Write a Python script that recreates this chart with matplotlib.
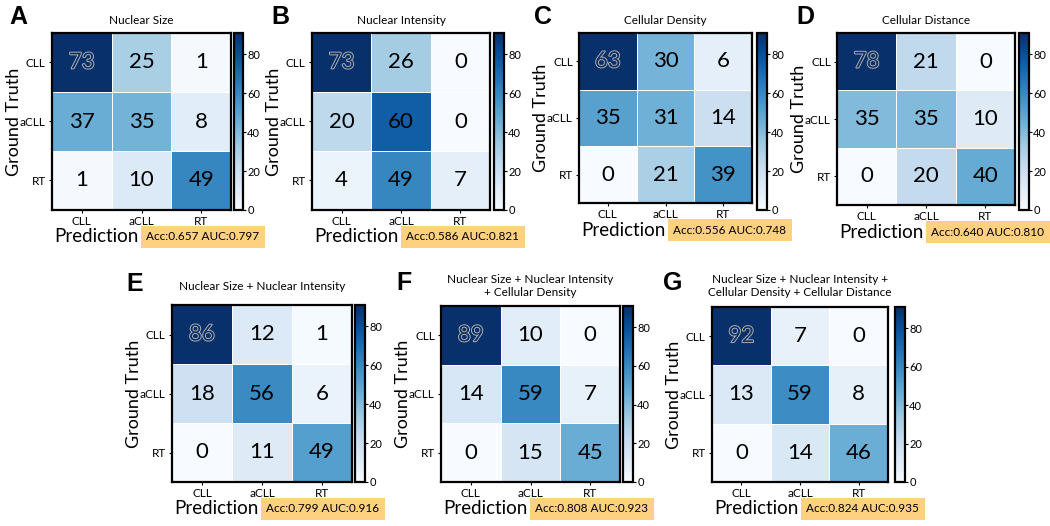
import numpy as np
import matplotlib
matplotlib.use("Agg")
import matplotlib.pyplot as plt
from matplotlib import patheffects as pe
from matplotlib.colors import Normalize
from matplotlib.cm import ScalarMappable

plt.rcParams['font.family'] = ['Lato', 'DejaVu Sans']

classes = ["CLL", "aCLL", "RT"]
panel_letters = ["A", "B", "C", "D", "E", "F", "G"]
titles = ["Nuclear Size", "Nuclear Intensity", "Cellular Density", "Cellular Distance",
          "Nuclear Size + Nuclear Intensity",
          "Nuclear Size + Nuclear Intensity\n+ Cellular Density",
          "Nuclear Size + Nuclear Intensity +\nCellular Density + Cellular Distance"]
cm_A = [[73, 25, 1], [37, 35, 8], [1, 10, 49]]
cm_B = [[73, 26, 0], [20, 60, 0], [4, 49, 7]]
cm_C = [[63, 30, 6], [35, 31, 14], [0, 21, 39]]
cm_D = [[78, 21, 0], [35, 35, 10], [0, 20, 40]]
cm_E = [[86, 12, 1], [18, 56, 6], [0, 11, 49]]
cm_F = [[89, 10, 0], [14, 59, 7], [0, 15, 45]]
cm_G = [[92, 7, 0], [13, 59, 8], [0, 14, 46]]
matrices = [cm_A, cm_B, cm_C, cm_D, cm_E, cm_F, cm_G]
acc = ["0.657", "0.586", "0.556", "0.640", "0.799", "0.808", "0.824"]
auc = ["0.797", "0.821", "0.748", "0.810", "0.916", "0.923", "0.935"]
cbar_max = 91
cbar_ticks = [0, 20, 40, 60, 80]

W, H = 1050, 526
fig = plt.figure(figsize=(W / 100, H / 100), dpi=100)

# layout in pixels: heatmap (x0, x1, y0, y1), colorbar (x0, x1, y0, y1), title y, letter (x, y)
layout = [
    ((52, 231, 33, 210), (234, 243, 33, 210), 20, (9, 17)),
    ((312, 490, 33, 210), (494, 504, 33, 210), 20, (271, 17)),
    ((579, 752, 33, 203), (757, 767, 33, 210), 20, (534, 17)),
    ((837, 1015, 33, 205), (1019, 1029, 33, 210), 20, (796, 17)),
    ((172, 352, 305, 482), (355, 365, 305, 482), 286, (126, 284)),
    ((441, 620, 306, 482), (623, 633, 306, 482), 286, (396, 283)),
    ((712, 888, 307, 482), (895, 905, 307, 482), 286, (663, 283)),
]


def add_px_axes(x0, x1, y0, y1):
    return fig.add_axes([x0 / W, 1 - y1 / H, (x1 - x0) / W, (y1 - y0) / H])


cbar_norm = Normalize(vmin=0, vmax=cbar_max)

for i, mat in enumerate(matrices):
    m = np.array(mat)
    (hx0, hx1, hy0, hy1), (cx0, cx1, cy0, cy1), ty, (lx, ly) = layout[i]
    ax = add_px_axes(hx0, hx1, hy0, hy1)
    ax.pcolormesh(m, cmap="Blues", vmin=0, vmax=m.max(), edgecolors="white", linewidth=0.7)
    ax.set_xlim(0, 3)
    ax.set_ylim(3, 0)
    ax.set_xticks(np.arange(3) + 0.5)
    ax.set_yticks(np.arange(3) + 0.5)
    ax.set_xticklabels(classes, fontsize=8.5)
    ax.set_yticklabels(classes, fontsize=8.5)
    ax.tick_params(length=2.5, width=0.8, pad=2)
    for s in ax.spines.values():
        s.set_linewidth(1.6)
    vmax = m.max()
    for r in range(3):
        for c in range(3):
            v = m[r, c]
            if v == vmax:
                ax.text(c + 0.5, r + 0.5, str(v), ha="center", va="center", fontsize=16,
                        color="#0e2f62",
                        path_effects=[pe.withStroke(linewidth=1.3, foreground="#b8b8b8")])
            else:
                ax.text(c + 0.5, r + 0.5, str(v), ha="center", va="center", fontsize=16,
                        color="black")

    cax = add_px_axes(cx0, cx1, cy0, cy1)
    cb = fig.colorbar(ScalarMappable(norm=cbar_norm, cmap="Blues"), cax=cax, ticks=cbar_ticks)
    cb.outline.set_linewidth(1.6)
    cax.tick_params(labelsize=8, length=2, width=0.8, pad=1)

    cxm = (hx0 + hx1) / 2
    fig.text(cxm / W, 1 - ty / H, titles[i], ha="center", va="center", fontsize=8.5,
             linespacing=1.2)
    fig.text(lx / W, 1 - ly / H, panel_letters[i], ha="left", va="center", fontsize=18,
             fontweight="bold", family=["Liberation Sans", "DejaVu Sans"])
    fig.text((hx0 - 38) / W, 1 - ((hy0 + hy1) / 2) / H, "Ground Truth", rotation=90,
             ha="center", va="center", fontsize=13)
    py = 1 - (hy1 + 27) / H
    t = fig.text((hx0 + 2) / W, py, "Prediction", ha="left", va="center", fontsize=13.5)
    fig.canvas.draw()
    bb = t.get_window_extent()
    fig.text((bb.x1 + 8) / W, py, f"Acc:{acc[i]} AUC:{auc[i]}", ha="left", va="center",
             fontsize=8.5,
             bbox=dict(boxstyle="square,pad=0.45", facecolor="#fdd17f", edgecolor="none"))

fig.savefig("out.png", dpi=100)
